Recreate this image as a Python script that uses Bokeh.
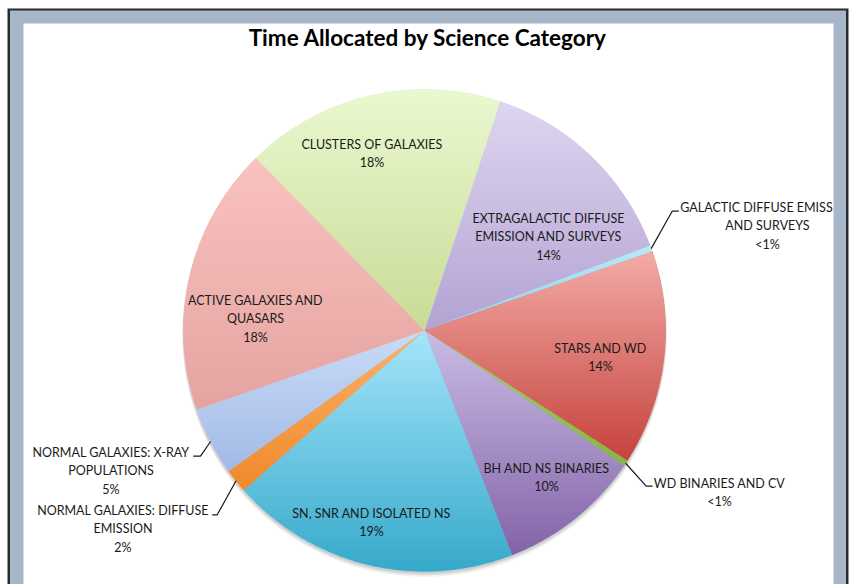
import numpy as np
from bokeh.plotting import figure
from bokeh.models import Range1d, ColumnDataSource
from bokeh.core.properties import value
from bokeh.embed import file_html
from bokeh.resources import INLINE

# ---------------- data ----------------
title_text = "Time Allocated by Science Category"
categories = [
    "EXTRAGALACTIC DIFFUSE EMISSION AND SURVEYS",
    "GALACTIC DIFFUSE EMISS AND SURVEYS",
    "STARS AND WD",
    "WD BINARIES AND CV",
    "BH AND NS BINARIES",
    "SN, SNR AND ISOLATED NS",
    "NORMAL GALAXIES: DIFFUSE EMISSION",
    "NORMAL GALAXIES: X-RAY POPULATIONS",
    "ACTIVE GALAXIES AND QUASARS",
    "CLUSTERS OF GALAXIES",
]
shares = [14.2, 0.4, 14.4, 0.4, 9.6, 19.4, 1.6, 4.6, 18.0, 17.4]
pct_labels = ["14%", "<1%", "14%", "<1%", "10%", "19%", "2%", "5%", "18%", "18%"]
label_lines = [
    ["EXTRAGALACTIC DIFFUSE", "EMISSION AND SURVEYS"],
    ["GALACTIC DIFFUSE EMISS", "AND SURVEYS"],
    ["STARS AND WD"],
    ["WD BINARIES AND CV"],
    ["BH AND NS BINARIES"],
    ["SN, SNR AND ISOLATED NS"],
    ["NORMAL GALAXIES: DIFFUSE", "EMISSION"],
    ["NORMAL GALAXIES: X-RAY", "POPULATIONS"],
    ["ACTIVE GALAXIES AND", "QUASARS"],
    ["CLUSTERS OF GALAXIES"],
]
top_colors = ["#e0d6f1", "#b9ebf7", "#f4aca8", "#a8d26c", "#cbbde6",
              "#a6e6fb", "#fbb46e", "#cadcf7", "#fac3c0", "#ebf9d0"]
bottom_colors = ["#b3a3d3", "#8fd3ea", "#c6433d", "#86b548", "#8464a8",
                 "#37aacb", "#f0892b", "#a2bae6", "#e5a4a1", "#c8dc98"]

# ---------------- layout ----------------
W, H = 851, 584
PAGE_H = 584


def Y(sy):
    return PAGE_H - sy


CX, CY, R = 424.0, Y(330.0), 241.0
START_DEG = 18.3  # clockwise from 12 o'clock

# label line centres (screen px) and line spacing
label_anchor = [(548, 218), (756, 207), (600, 348), (719, 483), (546, 468),
                (371, 513), (122.5, 510), (110.5, 452), (255, 300), (371.5, 144)]
LINE_H = 18.4
# leader lines: (elbow, end) in screen px for small slices
leaders = {1: [(671.7, 210.7), (678.3, 210.7)],
           3: [(645.7, 485.7), (652.0, 485.7)],
           6: [(216.7, 514.3), (211.7, 514.3)],
           7: [(200.0, 455.7), (192.7, 455.7)]}

p = figure(width=W, height=H, output_backend="svg", toolbar_location=None,
           x_range=Range1d(0, W), y_range=Range1d(PAGE_H - H, PAGE_H),
           min_border=0, outline_line_color=None)
p.axis.visible = False
p.grid.visible = False
p.background_fill_color = "white"
p.border_fill_color = "white"

# frame
p.quad(left=[7], right=[848], bottom=[Y(590)], top=[Y(8)], fill_color="#2a2a2a", line_color=None)
p.quad(left=[9.5], right=[845.5], bottom=[Y(590)], top=[Y(10)], fill_color="#a7b7c9", line_color=None)
p.quad(left=[23], right=[833], bottom=[Y(590)], top=[Y(23)], fill_color="white", line_color=None)

# angles
vals = np.array(shares, dtype=float)
fr = vals / vals.sum()
ends = START_DEG + np.cumsum(fr) * 360.0
starts = ends - fr * 360.0

# soft shadow
for off, rr, a in [(4, R + 1.5, 0.05), (3, R + 1, 0.07), (2, R + 0.5, 0.08)]:
    p.circle(x=[CX], y=[CY - off], radius=rr, fill_color="#000000", fill_alpha=a, line_color=None)

# base wedges (direction clockwise, bokeh angle = 90 - theta)
mid_colors = []
for t, b in zip(top_colors, bottom_colors):
    c1 = np.array([int(t[i:i + 2], 16) for i in (1, 3, 5)])
    c2 = np.array([int(b[i:i + 2], 16) for i in (1, 3, 5)])
    m = ((c1 + c2) / 2).astype(int)
    mid_colors.append("#%02x%02x%02x" % tuple(m))
wsrc = ColumnDataSource(dict(start=np.radians(90 - starts), end=np.radians(90 - ends), color=mid_colors))
p.wedge(x=CX, y=CY, radius=R, start_angle="start", end_angle="end", direction="clock",
        fill_color="color", line_color="color", line_width=0.5, source=wsrc)


# gradient overlay: each slice split into horizontal bands
def clip(poly, yv, keep_below):
    out = []
    n = len(poly)
    for i in range(n):
        a = poly[i]
        b = poly[(i + 1) % n]
        ina = a[1] <= yv if keep_below else a[1] >= yv
        inb = b[1] <= yv if keep_below else b[1] >= yv
        if ina:
            out.append(a)
        if ina != inb:
            t = (yv - a[1]) / (b[1] - a[1])
            out.append((a[0] + t * (b[0] - a[0]), yv))
    return out


def hex2rgb(h):
    return np.array([int(h[i:i + 2], 16) for i in (1, 3, 5)], dtype=float)


xs_all, ys_all, col_all = [], [], []
NB = 48
for i in range(len(vals)):
    th = np.radians(np.linspace(starts[i], ends[i], max(3, int((ends[i] - starts[i]) * 2))))
    poly = [(CX, CY)] + [(CX + R * np.sin(a), CY + R * np.cos(a)) for a in th]
    ys = [q[1] for q in poly]
    ymax, ymin = max(ys), min(ys)
    h = (ymax - ymin) / NB
    c1, c2 = hex2rgb(top_colors[i]), hex2rgb(bottom_colors[i])
    for k in range(NB):
        yhi = ymax - k * h + (0.7 if k > 0 else 0)
        ylo = ymax - (k + 1) * h
        band = clip(clip(poly, yhi, True), ylo, False)
        if len(band) < 3:
            continue
        t = (k + 0.5) / NB
        c = (c1 * (1 - t) + c2 * t).astype(int)
        xs_all.append([q[0] for q in band])
        ys_all.append([q[1] for q in band])
        col_all.append("#%02x%02x%02x" % tuple(c))
p.patches(xs=xs_all, ys=ys_all, fill_color=col_all, line_color=None)

# leader lines
for i, pts in leaders.items():
    mid = np.radians((starts[i] + ends[i]) / 2)
    x0, y0 = CX + R * np.sin(mid), CY + R * np.cos(mid)
    lx = [x0] + [q[0] for q in pts]
    ly = [y0] + [Y(q[1]) for q in pts]
    p.line(lx, ly, line_color="#1a1a1a", line_width=1.2)

# labels
tx, ty, tt = [], [], []
for i, lines in enumerate(label_lines):
    ax, ay = label_anchor[i]
    allines = lines + [pct_labels[i]]
    for j, s in enumerate(allines):
        xx = ax
        if i == 1 and j > 0:
            xx = 767
        tx.append(xx)
        ty.append(Y(ay + j * LINE_H))
        tt.append(s)
p.text(x=tx, y=ty, text=tt, text_font=value("Lato"), text_font_size="12.5px",
       text_color="#1a1a1a", text_align="center", text_baseline="middle")

# title
p.text(x=[427.5], y=[Y(37)], text=[title_text], text_font=value("Lato"), text_font_size="22.5px",
       text_font_style="bold", text_color="#000000", text_align="center", text_baseline="middle")

open("out.html", "w").write(file_html(p, INLINE))
